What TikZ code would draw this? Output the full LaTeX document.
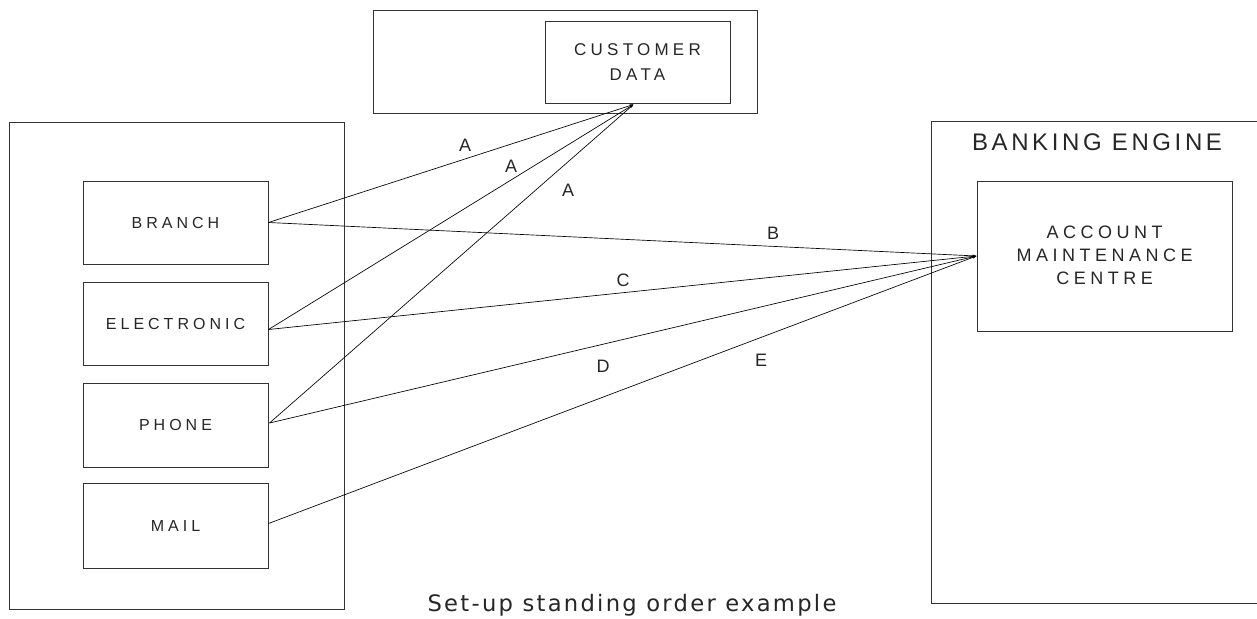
\documentclass[tikz,border=0pt]{standalone}
\usepackage{fontspec}
\setmainfont{Liberation Sans}
\newfontfamily\boxfont[LetterSpace=25]{Liberation Sans}
\newfontfamily\titlefont[LetterSpace=15]{Liberation Sans}
\newfontfamily\capfont[LetterSpace=10]{DejaVu Sans}
\usetikzlibrary{fit,calc,arrows.meta}
\begin{document}
\begin{tikzpicture}[x=0.75pt,y=-0.75pt,
  box/.style={draw=black!80, line width=0.75pt, inner sep=0pt},
  lbl/.style={font=\boxfont\fontsize{12}{14}\selectfont, text=black!85},
  conn/.style={draw=black, line width=0.5pt, -{Stealth[length=3pt,width=2pt]}},
  letter/.style={font=\fontsize{13.5}{15}\selectfont, text=black!85}]
\useasboundingbox (0,0) rectangle (1257,618);
% containers
\node[box, fit={(373,10) (757,113)}] (top) {};
\node[box, fit={(9,122) (344,609)}] (left) {};
\draw[draw=black!80, line width=0.75pt] (1258,121) -- (931,121) -- (931,603) -- (1258,603);
\node[font=\titlefont\fontsize{18}{20}\selectfont, text=black!85] (be) at (1097,142) {BANKING ENGINE};
% inner boxes
\node[box, fit={(545,21) (730,103)}] (cust) {};
\node[font=\boxfont\fontsize{12.75}{18.75}\selectfont, text=black!85, align=center] at (cust.center) {CUSTOMER\\DATA};
\node[box, fit={(83,181) (268,264)}] (branch) {};
\node[lbl] at (branch.center) {BRANCH};
\node[box, fit={(83,282) (268,365)}] (elec) {};
\node[lbl] at (elec.center) {ELECTRONIC};
\node[box, fit={(83,383) (268,467)}] (phone) {};
\node[lbl] at (phone.center) {PHONE};
\node[box, fit={(83,483) (268,568)}] (mail) {};
\node[lbl] at (mail.center) {MAIL};
\node[box, fit={(977,181) (1232,331)}] (amc) {};
\node[font=\boxfont\fontsize{13.5}{17.25}\selectfont, text=black!85, align=center] at ($(amc.center)+(0,-1)$) {ACCOUNT\\MAINTENANCE\\CENTRE};
% connectors
\coordinate (brE) at (branch.east);
\coordinate (elE) at ($(elec.east)+(0,6)$);
\coordinate (phE) at ($(phone.east)+(1,-2)$);
\coordinate (maE) at ($(mail.east)+(0,-2)$);
\coordinate (cuS) at ($(cust.south)+(-4,1)$);
\coordinate (amW) at (amc.west);
\draw[conn] (brE) -- (cuS);
\draw[conn] (elE) -- (cuS);
\draw[conn] (phE) -- (cuS);
\draw[conn] (brE) -- (amW);
\draw[conn] (elE) -- (amW);
\draw[conn] (phE) -- (amW);
\draw[conn] (maE) -- (amW);
% labels
\node[letter] (a1) at (465,145) {A};
\node[letter] (a2) at (511,166) {A};
\node[letter] (a3) at (568,190) {A};
\node[letter] (lb) at (773,233) {B};
\node[letter] (lc) at (623,280) {C};
\node[letter] (ld) at (603,366) {D};
\node[letter] (le) at (761,360) {E};
\node[font=\capfont\fontsize{17}{19}\selectfont, text=black!85] (cap) at (632,605) {Set-up standing order example};
\end{tikzpicture}
\end{document}
